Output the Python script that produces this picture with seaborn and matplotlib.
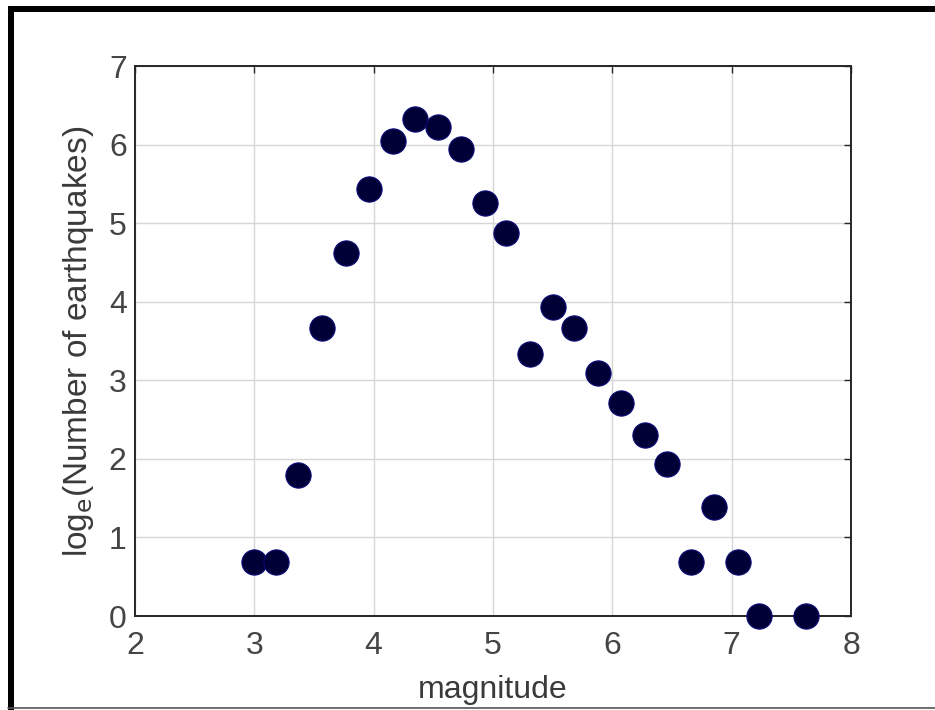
import matplotlib
matplotlib.use("Agg")
import matplotlib.pyplot as plt
import seaborn as sns
import pandas as pd
from matplotlib.patches import Rectangle
from matplotlib.lines import Line2D

# Data
magnitude = [3.00, 3.18, 3.37, 3.57, 3.77, 3.96, 4.16, 4.35, 4.54, 4.73,
             4.93, 5.11, 5.31, 5.50, 5.68, 5.88, 6.07, 6.27, 6.46, 6.66,
             6.85, 7.05, 7.23, 7.62]
log_count = [0.69, 0.69, 1.79, 3.66, 4.62, 5.44, 6.04, 6.33, 6.22, 5.95,
             5.26, 4.88, 3.33, 3.93, 3.66, 3.09, 2.71, 2.30, 1.94, 0.69,
             1.39, 0.69, 0.00, 0.00]
x_ticks = [2, 3, 4, 5, 6, 7, 8]
y_ticks = [0, 1, 2, 3, 4, 5, 6, 7]

df = pd.DataFrame({"magnitude": magnitude, "logn": log_count})

sns.set_theme(style="whitegrid")
plt.rcParams['font.family'] = ['Liberation Sans', 'DejaVu Sans']
plt.rcParams['mathtext.default'] = 'regular'
plt.rcParams['mathtext.fontset'] = 'custom'
plt.rcParams['mathtext.rm'] = 'Liberation Sans'

W, H = 935, 710
fig = plt.figure(figsize=(W / 100, H / 100), dpi=100)
fig.patch.set_facecolor("white")
ax = fig.add_axes([135 / W, (H - 616) / H, (851 - 135) / W, (616 - 66) / H])
ax.set_facecolor("white")

sns.scatterplot(data=df, x="magnitude", y="logn", ax=ax, s=330,
                color="#000036", edgecolor="#0c0c78", linewidth=0.8,
                zorder=5, clip_on=False)

ax.set_xlim(2, 8)
ax.set_ylim(0, 7)
ax.set_xticks(x_ticks)
ax.set_yticks(y_ticks)
ax.set_xticklabels([str(t) for t in x_ticks])
ax.set_yticklabels([str(t) for t in y_ticks])

ax.grid(True, color="#d6d6d6", linewidth=1.0)
ax.set_axisbelow(True)
for s in ax.spines.values():
    s.set_visible(True)
    s.set_color("#262626")
    s.set_linewidth(1.4)

ax.tick_params(axis="both", which="both", direction="in", length=5, width=1.0,
               color="#262626", top=True, right=True, labelsize=23,
               labelcolor="#454545")
ax.tick_params(axis="x", pad=11)
ax.tick_params(axis="y", pad=6)

ax.set_xlabel("magnitude", fontsize=23, color="#3a3a3a", labelpad=10)
ax.set_ylabel(r"log$_{\mathsf{e}}$(Number of earthquakes)", fontsize=24,
              color="#3a3a3a", labelpad=9)

# Outer frame as in the reference (thick black left/top, thin gray bottom)
fig.add_artist(Rectangle((8 / W, 0), 6 / W, (H - 6) / H, transform=fig.transFigure,
                         facecolor="black", edgecolor="none"))
fig.add_artist(Rectangle((8 / W, (H - 12) / H), (W - 8) / W, 6 / H,
                         transform=fig.transFigure, facecolor="black", edgecolor="none"))
fig.add_artist(Line2D([8 / W, 1], [2.5 / H, 2.5 / H], transform=fig.transFigure,
                      color="#555555", linewidth=1.2))

fig.savefig("out.png", dpi=100, facecolor="white")
